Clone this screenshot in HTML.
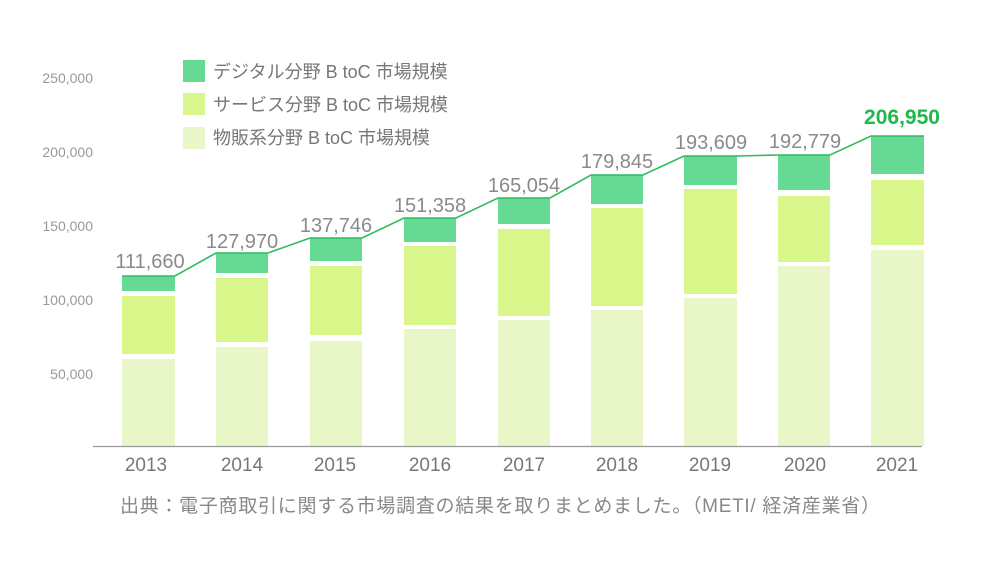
<!DOCTYPE html>
<html><head><meta charset="utf-8"><style>
html,body{margin:0;padding:0;background:#fff;}
svg{display:block;}
text{font-family:"Liberation Sans","Noto Sans CJK JP",sans-serif;}
</style></head><body>
<svg width="1000" height="563" viewBox="0 0 1000 563" xmlns="http://www.w3.org/2000/svg">
<rect width="1000" height="563" fill="#fff"/>
<g font-size="14" fill="#999" text-anchor="end">
<text x="93" y="83">250,000</text>
<text x="93" y="157">200,000</text>
<text x="93" y="231">150,000</text>
<text x="93" y="305">100,000</text>
<text x="93" y="379">50,000</text>
</g>
<g>
<rect x="122" y="276" width="53" height="15" fill="#66d995"/>
<rect x="122" y="296" width="53" height="58" fill="#d8f68a"/>
<rect x="122" y="359" width="53" height="87" fill="#e9f7c8"/>

<rect x="216" y="253" width="52" height="20" fill="#66d995"/>
<rect x="216" y="278" width="52" height="64" fill="#d8f68a"/>
<rect x="216" y="347" width="52" height="99" fill="#e9f7c8"/>

<rect x="310" y="238" width="52" height="23" fill="#66d995"/>
<rect x="310" y="266" width="52" height="69" fill="#d8f68a"/>
<rect x="310" y="341" width="52" height="105" fill="#e9f7c8"/>

<rect x="404" y="218" width="52" height="24" fill="#66d995"/>
<rect x="404" y="246" width="52" height="79" fill="#d8f68a"/>
<rect x="404" y="329" width="52" height="117" fill="#e9f7c8"/>

<rect x="498" y="198" width="52" height="26" fill="#66d995"/>
<rect x="498" y="229" width="52" height="87" fill="#d8f68a"/>
<rect x="498" y="320" width="52" height="126" fill="#e9f7c8"/>

<rect x="591" y="175" width="52" height="29" fill="#66d995"/>
<rect x="591" y="208" width="52" height="98" fill="#d8f68a"/>
<rect x="591" y="310" width="52" height="136" fill="#e9f7c8"/>

<rect x="684" y="156" width="53" height="29" fill="#66d995"/>
<rect x="684" y="189" width="53" height="105" fill="#d8f68a"/>
<rect x="684" y="298" width="53" height="148" fill="#e9f7c8"/>

<rect x="778" y="155" width="52" height="35" fill="#66d995"/>
<rect x="778" y="196" width="52" height="66" fill="#d8f68a"/>
<rect x="778" y="266" width="52" height="180" fill="#e9f7c8"/>

<rect x="871" y="136" width="53" height="38" fill="#66d995"/>
<rect x="871" y="180" width="53" height="65" fill="#d8f68a"/>
<rect x="871" y="250" width="53" height="196" fill="#e9f7c8"/>
</g>
<polyline fill="none" stroke="#2dbb5c" stroke-width="1.6" points="122,276 175,276 216,253 268,253 310,238 362,238 404,218 456,218 498,198 550,198 591,175 643,175 684,156 737,156 778,155 830,155 871,136 924,136"/>
<line x1="93" y1="446.5" x2="922" y2="446.5" stroke="#999" stroke-width="1.2"/>
<g font-size="20" fill="#8a8a8a" text-anchor="middle">
<text x="150" y="268">111,660</text>
<text x="242" y="248">127,970</text>
<text x="336" y="232">137,746</text>
<text x="430" y="212">151,358</text>
<text x="524" y="192">165,054</text>
<text x="617" y="168">179,845</text>
<text x="711" y="149">193,609</text>
<text x="805" y="148">192,779</text>
<text x="902" y="124" fill="#1fb84a" font-weight="bold" font-size="21">206,950</text>
</g>
<g font-size="19" fill="#777" text-anchor="middle">
<text x="146" y="471">2013</text>
<text x="242" y="471">2014</text>
<text x="335" y="471">2015</text>
<text x="430" y="471">2016</text>
<text x="524" y="471">2017</text>
<text x="617" y="471">2018</text>
<text x="710" y="471">2019</text>
<text x="805" y="471">2020</text>
<text x="897" y="471">2021</text>
</g>
<rect x="183" y="60" width="22" height="22" fill="#66d995"/>
<rect x="183" y="93" width="22" height="22" fill="#d8f68a"/>
<rect x="183" y="127" width="22" height="22" fill="#e9f7c8"/>
<g font-size="18" fill="#777">
<text x="213" y="78">デジタル分野 B toC 市場規模</text>
<text x="213" y="111">サービス分野 B toC 市場規模</text>
<text x="213" y="144">物販系分野 B toC 市場規模</text>
</g>
<text x="120" y="512" font-size="19" fill="#888" textLength="760">出典：電子商取引に関する市場調査の結果を取りまとめました。（METI/ 経済産業省）</text>
</svg>
</body></html>
